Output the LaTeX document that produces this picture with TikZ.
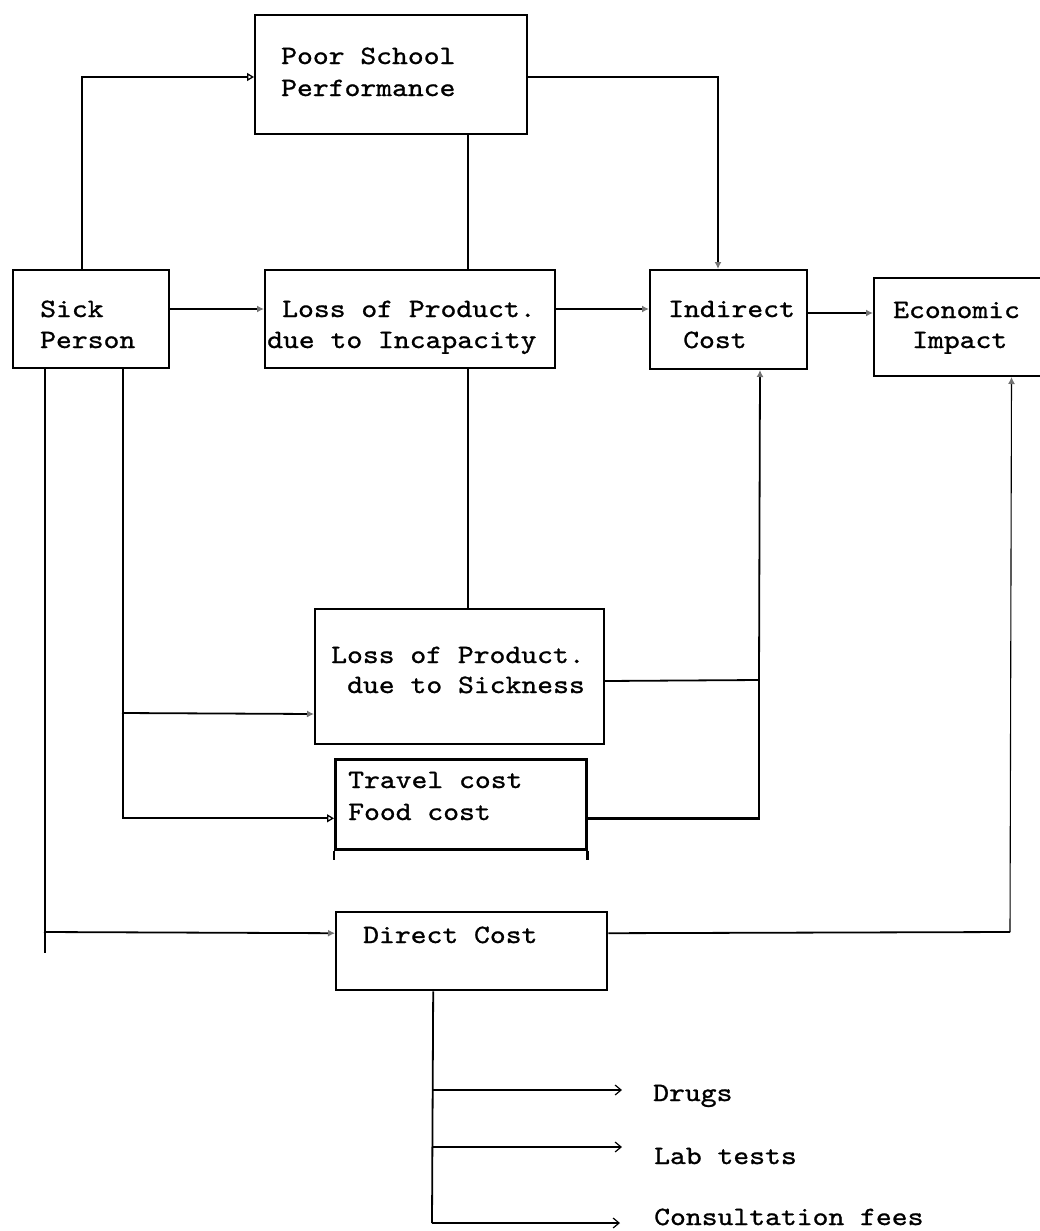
\documentclass[tikz,border=0pt]{standalone}
\usepackage{fontspec}
\newfontfamily\courlike{lmmono10-regular.otf}[FakeStretch=1.143,FakeBold=1]
\usetikzlibrary{arrows.meta}
\tikzset{
  box/.style={draw, line width=2pt, rectangle, inner sep=0pt, anchor=north west},
  lbl/.style={font=\courlike\fontsize{26.4pt}{31pt}\selectfont, anchor=base west, inner sep=0pt},
  conn/.style={line width=1.8pt},
  thinconn/.style={line width=1.1pt},
  otip/.style={-{Triangle[open,length=7pt,width=8pt,line width=1.3pt]}},
  ftip/.style={-{Latex[length=7pt,width=7pt,color=black!55]}},
  chev/.style={-{Straight Barb[length=6pt,width=10pt,line width=1.2pt]}}
}
\begin{document}
\begin{tikzpicture}[x=1pt,y=-1pt]
\useasboundingbox (0,0) rectangle (1040,1231);

% boxes
\node[box, minimum width=272pt, minimum height=119pt] (ps) at (254,14) {};
\node[box, minimum width=156pt, minimum height=98pt] (sp) at (12,269) {};
\node[box, minimum width=290pt, minimum height=98pt] (li) at (264,269) {};
\node[box, minimum width=157pt, minimum height=99pt] (ic) at (649,269) {};
\node[box, minimum width=170pt, minimum height=98pt] (ei) at (873,277) {};
\node[box, minimum width=289pt, minimum height=135pt] (ls) at (314,608) {};
\node[box, line width=2.6pt, minimum width=251pt, minimum height=90pt] (tf) at (334,758) {};
\node[box, line width=2.4pt, minimum width=271pt, minimum height=78pt] (dc) at (335,911) {};
\draw[line width=2.6pt] (tf.south west) -- ++(0,9);
\draw[line width=2.6pt] (tf.south east) -- ++(0,9);

% labels
\node[lbl] (ps1) at (281,64) {Poor School};
\node[lbl] (ps2) at (281,96) {Performance};
\node[lbl] (sp1) at (40,317) {Sick};
\node[lbl] (sp2) at (40,348) {Person};
\node[lbl] (li1) at (282,317) {Loss of Product.};
\node[lbl] (li2) at (267,348) {due to Incapacity};
\node[lbl] (ic1) at (668,317) {Indirect};
\node[lbl] (ic2) at (683,348) {Cost};
\node[lbl] (ei1) at (893,318) {Economic};
\node[lbl] (ei2) at (912,348) {Impact};
\node[lbl] (ls1) at (331,663) {Loss of Product.};
\node[lbl] (ls2) at (347,693) {due to Sickness};
\node[lbl] (tf1) at (348,788) {Travel cost};
\node[lbl] (tf2) at (348,820) {Food cost};
\node[lbl] (dc1) at (363,943) {Direct Cost};
\node[lbl] (dr) at (653,1101) {Drugs};
\node[lbl] (lt) at (654,1164) {Lab tests};
\node[lbl] (cf) at (654,1225) {Consultation fees};

% junctions and free ends
\coordinate (j1) at (759,680);
\coordinate (j2) at (1010,932);
\coordinate (j3) at (44,932);
\coordinate (j4) at (122,713);
\coordinate (k1) at (432,1090);
\coordinate (k2) at (432,1147);
\coordinate (k3) at (432,1223);
\coordinate (e1) at (622,1090);
\coordinate (e2) at (622,1147);
\coordinate (e3) at (620,1223);

% connectors
\draw[conn,otip] ([xshift=-9pt]sp.north) |- ([yshift=-2.5pt]ps.west);
\draw[conn,ftip] ([yshift=10pt]sp.east) -- ([yshift=10pt]li.west);
\draw[conn] ([xshift=77pt]ps.south) -- ([xshift=77pt]ps.south |- li.north);
\draw[conn,ftip] ([yshift=-2.5pt]ps.east) -| ([xshift=-10.5pt]ic.north);
\draw[conn,ftip] ([yshift=10pt]li.east) -- ([yshift=10pt]li.east -| ic.west);
\draw[conn,ftip] ([yshift=6.5pt]ic.east) -- ([yshift=6.5pt]ic.east -| ei.west);
\draw[conn] ([xshift=58pt]li.south) -- ([xshift=58pt]li.south |- ls.north);
\draw[conn] ([yshift=-4.5pt]ls.east) -- (j1);
\draw[conn,ftip] (j1) -- ([xshift=31.5pt]ic.south);
\draw[line width=2.4pt] ([yshift=-14pt]tf.east) -| (j1);
\draw[conn] ([yshift=18pt]dc.east) -- (j2);
\draw[thinconn,ftip] (j2) -- ([xshift=52.5pt]ei.south);
\draw[conn] ([xshift=-46pt]sp.south) -- ++(0,584);
\draw[conn,ftip] (j3) -- ([yshift=18pt]dc.west);
\draw[conn,otip] ([xshift=32pt]sp.south) |- ([yshift=-14pt]tf.west);
\draw[conn,ftip] (j4) -- ([yshift=-37.5pt]ls.west);
\draw[conn] ([xshift=-38.5pt]dc.south) -- (k3);
\draw[conn,chev] (k1) -- (e1);
\draw[conn,chev] (k2) -- (e2);
\draw[conn,chev] (k3) -- (e3);
\end{tikzpicture}
\end{document}
